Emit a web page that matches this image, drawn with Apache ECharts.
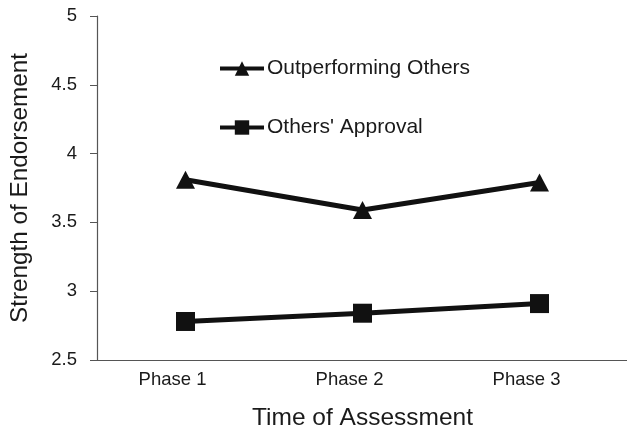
<!DOCTYPE html>
<html><head><meta charset="utf-8">
<script src="https://cdn.jsdelivr.net/npm/echarts@6/dist/echarts.min.js"></script>
<style>html,body{margin:0;padding:0;background:#fff}#c{width:627px;height:429px}</style>
</head><body><div id="c"></div>
<script>
const categories = ['Phase 1', 'Phase 2', 'Phase 3'];
const outperforming = [3.81, 3.59, 3.79];
const approval = [2.78, 2.84, 2.91];
const yTicks = [2.5, 3, 3.5, 4, 4.5, 5];
const seriesNames = ['Outperforming Others', "Others' Approval"];

const chart = echarts.init(document.getElementById('c'), null, {renderer: 'canvas'});
const font = 'Liberation Sans, Arial, sans-serif';
chart.setOption({
  animation: false,
  backgroundColor: '#fff',
  textStyle: {fontFamily: font},
  grid: {left: 97, right: -1, top: 16, bottom: 69, containLabel: false, outerBoundsMode: 'none'},
  legend: {
    orient: 'vertical', left: 213, top: 53, itemGap: 38,
    itemWidth: 44, itemHeight: 18,
    lineStyle: {width: 4},
    textStyle: {fontFamily: font, fontSize: 21, lineHeight: 21, color: '#1a1a1a', padding: [0,0,0,-2]},
    data: seriesNames
  },
  xAxis: {
    type: 'category', data: categories, boundaryGap: true,
    name: 'Time of Assessment', nameLocation: 'middle', nameGap: 46,
    nameTextStyle: {fontFamily: font, fontSize: 24.5, color: '#1a1a1a'},
    axisLine: {lineStyle: {color: '#555', width: 1.2}},
    axisTick: {show: false},
    axisLabel: {fontFamily: font, fontSize: 18.5, color: '#1a1a1a', margin: 10, padding: [0, 26, 0, 0]}
  },
  yAxis: {
    type: 'value', min: 2.5, max: 5, interval: 0.5,
    name: 'Strength of Endorsement', nameLocation: 'middle', nameGap: 65,
    nameTextStyle: {fontFamily: font, fontSize: 24.3, color: '#1a1a1a'},
    axisLine: {show: true, lineStyle: {color: '#555', width: 1.2}},
    axisTick: {show: true, inside: false, length: 7, lineStyle: {color: '#555'}},
    axisLabel: {fontFamily: font, fontSize: 18.5, color: '#1a1a1a', margin: 20,
      formatter: v => String(v)},
    splitLine: {show: false}
  },
  series: [
    {name: seriesNames[0], type: 'line', data: outperforming, symbol: 'triangle', symbolSize: [19, 18],
     color: '#111', lineStyle: {color: '#111', width: 5}, itemStyle: {color: '#111'}},
    {name: seriesNames[1], type: 'line', data: approval, symbol: 'rect', symbolSize: 19,
     color: '#111', lineStyle: {color: '#111', width: 5}, itemStyle: {color: '#111'}}
  ]
});
</script></body></html>
